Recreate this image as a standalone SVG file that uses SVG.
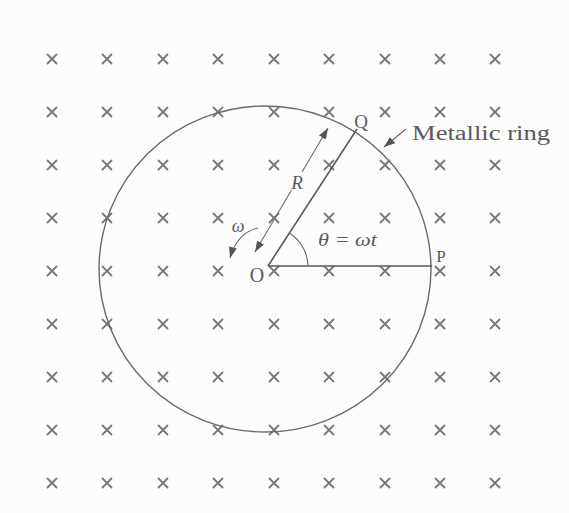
<svg xmlns="http://www.w3.org/2000/svg" width="569" height="513" viewBox="0 0 569 513">
  <style>
    .x { stroke: #777; stroke-width: 1.8; fill: none; stroke-linecap: round; }
    .ln { stroke: #5a5a5a; stroke-width: 1.6; fill: none; }
    .thin { stroke: #6a6a6a; stroke-width: 1.1; fill: none; }
    .t { font-family: "Liberation Serif", "DejaVu Serif", serif; fill: #5a5a5a; }
    .it { font-style: italic; }
  </style>
  <defs>
    <marker id="ah" viewBox="0 0 11 8" refX="11" refY="4" markerWidth="11" markerHeight="8" markerUnits="userSpaceOnUse" orient="auto">
      <path d="M0,0 L11,4 L0,8 Z" fill="#555"/>
    </marker>
    <g id="cr">
      <path class="x" d="M-4.5,-4.5 L4.5,4.5 M-4.5,4.5 L4.5,-4.5"/>
    </g>
  </defs>
  <rect width="569" height="513" fill="#fcfcfc"/>

  <g id="field">
    <use href="#cr" x="52" y="59"/><use href="#cr" x="107" y="59"/><use href="#cr" x="163" y="59"/><use href="#cr" x="218" y="59"/><use href="#cr" x="274" y="59"/><use href="#cr" x="329" y="59"/><use href="#cr" x="385" y="59"/><use href="#cr" x="440" y="59"/><use href="#cr" x="495" y="59"/>
    <use href="#cr" x="52" y="112"/><use href="#cr" x="107" y="112"/><use href="#cr" x="163" y="112"/><use href="#cr" x="218" y="112"/><use href="#cr" x="274" y="112"/><use href="#cr" x="329" y="112"/><use href="#cr" x="385" y="112"/><use href="#cr" x="440" y="112"/><use href="#cr" x="495" y="112"/>
    <use href="#cr" x="52" y="165"/><use href="#cr" x="107" y="165"/><use href="#cr" x="163" y="165"/><use href="#cr" x="218" y="165"/><use href="#cr" x="274" y="165"/><use href="#cr" x="329" y="165"/><use href="#cr" x="385" y="165"/><use href="#cr" x="440" y="165"/><use href="#cr" x="495" y="165"/>
    <use href="#cr" x="52" y="218"/><use href="#cr" x="107" y="218"/><use href="#cr" x="163" y="218"/><use href="#cr" x="218" y="218"/><use href="#cr" x="274" y="218"/><use href="#cr" x="329" y="218"/><use href="#cr" x="385" y="218"/><use href="#cr" x="440" y="218"/><use href="#cr" x="495" y="218"/>
    <use href="#cr" x="52" y="271"/><use href="#cr" x="107" y="271"/><use href="#cr" x="163" y="271"/><use href="#cr" x="218" y="271"/><use href="#cr" x="274" y="271"/><use href="#cr" x="329" y="271"/><use href="#cr" x="385" y="271"/><use href="#cr" x="440" y="271"/><use href="#cr" x="495" y="271"/>
    <use href="#cr" x="52" y="324"/><use href="#cr" x="107" y="324"/><use href="#cr" x="163" y="324"/><use href="#cr" x="218" y="324"/><use href="#cr" x="274" y="324"/><use href="#cr" x="329" y="324"/><use href="#cr" x="385" y="324"/><use href="#cr" x="440" y="324"/><use href="#cr" x="495" y="324"/>
    <use href="#cr" x="52" y="377"/><use href="#cr" x="107" y="377"/><use href="#cr" x="163" y="377"/><use href="#cr" x="218" y="377"/><use href="#cr" x="274" y="377"/><use href="#cr" x="329" y="377"/><use href="#cr" x="385" y="377"/><use href="#cr" x="440" y="377"/><use href="#cr" x="495" y="377"/>
    <use href="#cr" x="52" y="430"/><use href="#cr" x="107" y="430"/><use href="#cr" x="163" y="430"/><use href="#cr" x="218" y="430"/><use href="#cr" x="274" y="430"/><use href="#cr" x="329" y="430"/><use href="#cr" x="385" y="430"/><use href="#cr" x="440" y="430"/><use href="#cr" x="495" y="430"/>
    <use href="#cr" x="52" y="483"/><use href="#cr" x="107" y="483"/><use href="#cr" x="163" y="483"/><use href="#cr" x="218" y="483"/><use href="#cr" x="274" y="483"/><use href="#cr" x="329" y="483"/><use href="#cr" x="385" y="483"/><use href="#cr" x="440" y="483"/><use href="#cr" x="495" y="483"/>
  </g>

  <g id="ring">
    <ellipse cx="265" cy="269" rx="166" ry="163" stroke="#6a6a6a" stroke-width="1.4" fill="none"/>
  </g>

  <g id="rod-OQ">
    <line class="ln" x1="268" y1="266" x2="357" y2="129"/>
  </g>
  <g id="radius-OP">
    <line class="ln" x1="268" y1="266" x2="432" y2="266"/>
  </g>

  <g id="connectors">
    <path class="thin" d="M291.5,190 L255,252" marker-end="url(#ah)"/>
    <path class="thin" d="M302,172 L328,128" marker-end="url(#ah)"/>
    <path class="thin" d="M258,228 Q237,233 230,258" marker-end="url(#ah)"/>
    <path class="thin" d="M308,266 A40,40 0 0 0 290,233.5"/>
    <path class="thin" d="M406,129 L384,147" marker-end="url(#ah)"/>
  </g>

  <g id="labels">
    <text class="t" x="257" y="282" font-size="20" text-anchor="middle">O</text>
    <text class="t" x="361" y="128" font-size="19" text-anchor="middle">Q</text>
    <text class="t" x="441" y="262" font-size="17" text-anchor="middle">P</text>
    <text class="t it" x="297" y="189" font-size="19" text-anchor="middle">R</text>
    <text class="t it" x="238" y="232" font-size="18" text-anchor="middle">ω</text>
    <text class="t it" x="318" y="246" font-size="18" textLength="59" lengthAdjust="spacingAndGlyphs">θ = ωt</text>
    <text class="t" x="412" y="140" font-size="20" textLength="138" lengthAdjust="spacingAndGlyphs">Metallic ring</text>
  </g>
</svg>
